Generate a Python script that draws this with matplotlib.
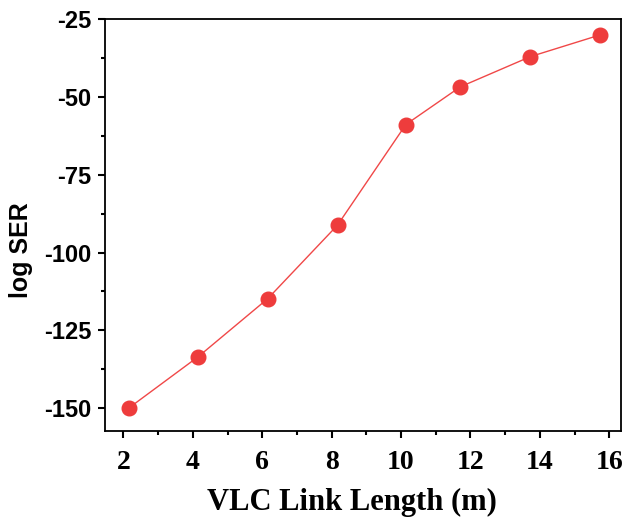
import matplotlib
matplotlib.use('Agg')
import matplotlib.pyplot as plt
from matplotlib.ticker import MultipleLocator

plt.rcParams['axes.unicode_minus'] = False

# values
link_length = [2.17, 4.16, 6.16, 8.17, 10.14, 11.71, 13.73, 15.72]
log_ser = [-149.8, -133.4, -114.8, -91.2, -58.9, -46.8, -37.1, -30.2]
x_ticks = [2, 4, 6, 8, 10, 12, 14, 16]
y_ticks = [-150, -125, -100, -75, -50, -25]

fig = plt.figure(figsize=(6.27, 5.25), dpi=100)
ax = fig.add_axes([0.1675, 0.179, 0.823, 0.785])

ax.plot(link_length, log_ser, color='#f04848', linewidth=1.0,
        marker='o', markersize=10.5, markerfacecolor='#ee3c3c',
        markeredgecolor='#ee3c3c')

ax.set_xlim(1.47, 16.34)
ax.set_ylim(-157.3, -25)
ax.set_xticks(x_ticks)
ax.set_yticks(y_ticks)
ax.xaxis.set_minor_locator(MultipleLocator(1))
ax.yaxis.set_minor_locator(MultipleLocator(12.5))
ax.tick_params(which='major', direction='out', length=5, width=1.5)
ax.tick_params(which='minor', direction='out', length=3, width=1.5)
ax.tick_params(axis='y', which='major', pad=5)
ax.tick_params(axis='x', which='major', pad=9)

for lab in ax.get_yticklabels():
    lab.set_fontfamily('Liberation Sans')
    lab.set_fontweight('bold')
    lab.set_fontsize(17)
for lab in ax.get_xticklabels():
    lab.set_fontfamily('Liberation Serif')
    lab.set_fontweight('bold')
    lab.set_fontsize(20)

for sp in ax.spines.values():
    sp.set_linewidth(1.3)

ax.set_xlabel('VLC Link Length (m)', fontfamily='Liberation Serif',
              fontweight='bold', fontsize=22)
ax.xaxis.set_label_coords(0.478, -0.138)
ax.set_ylabel('log SER', fontfamily='Liberation Sans',
              fontweight='bold', fontsize=18)
ax.yaxis.set_label_coords(-0.14, 0.44)

fig.savefig('out.png', dpi=100)
